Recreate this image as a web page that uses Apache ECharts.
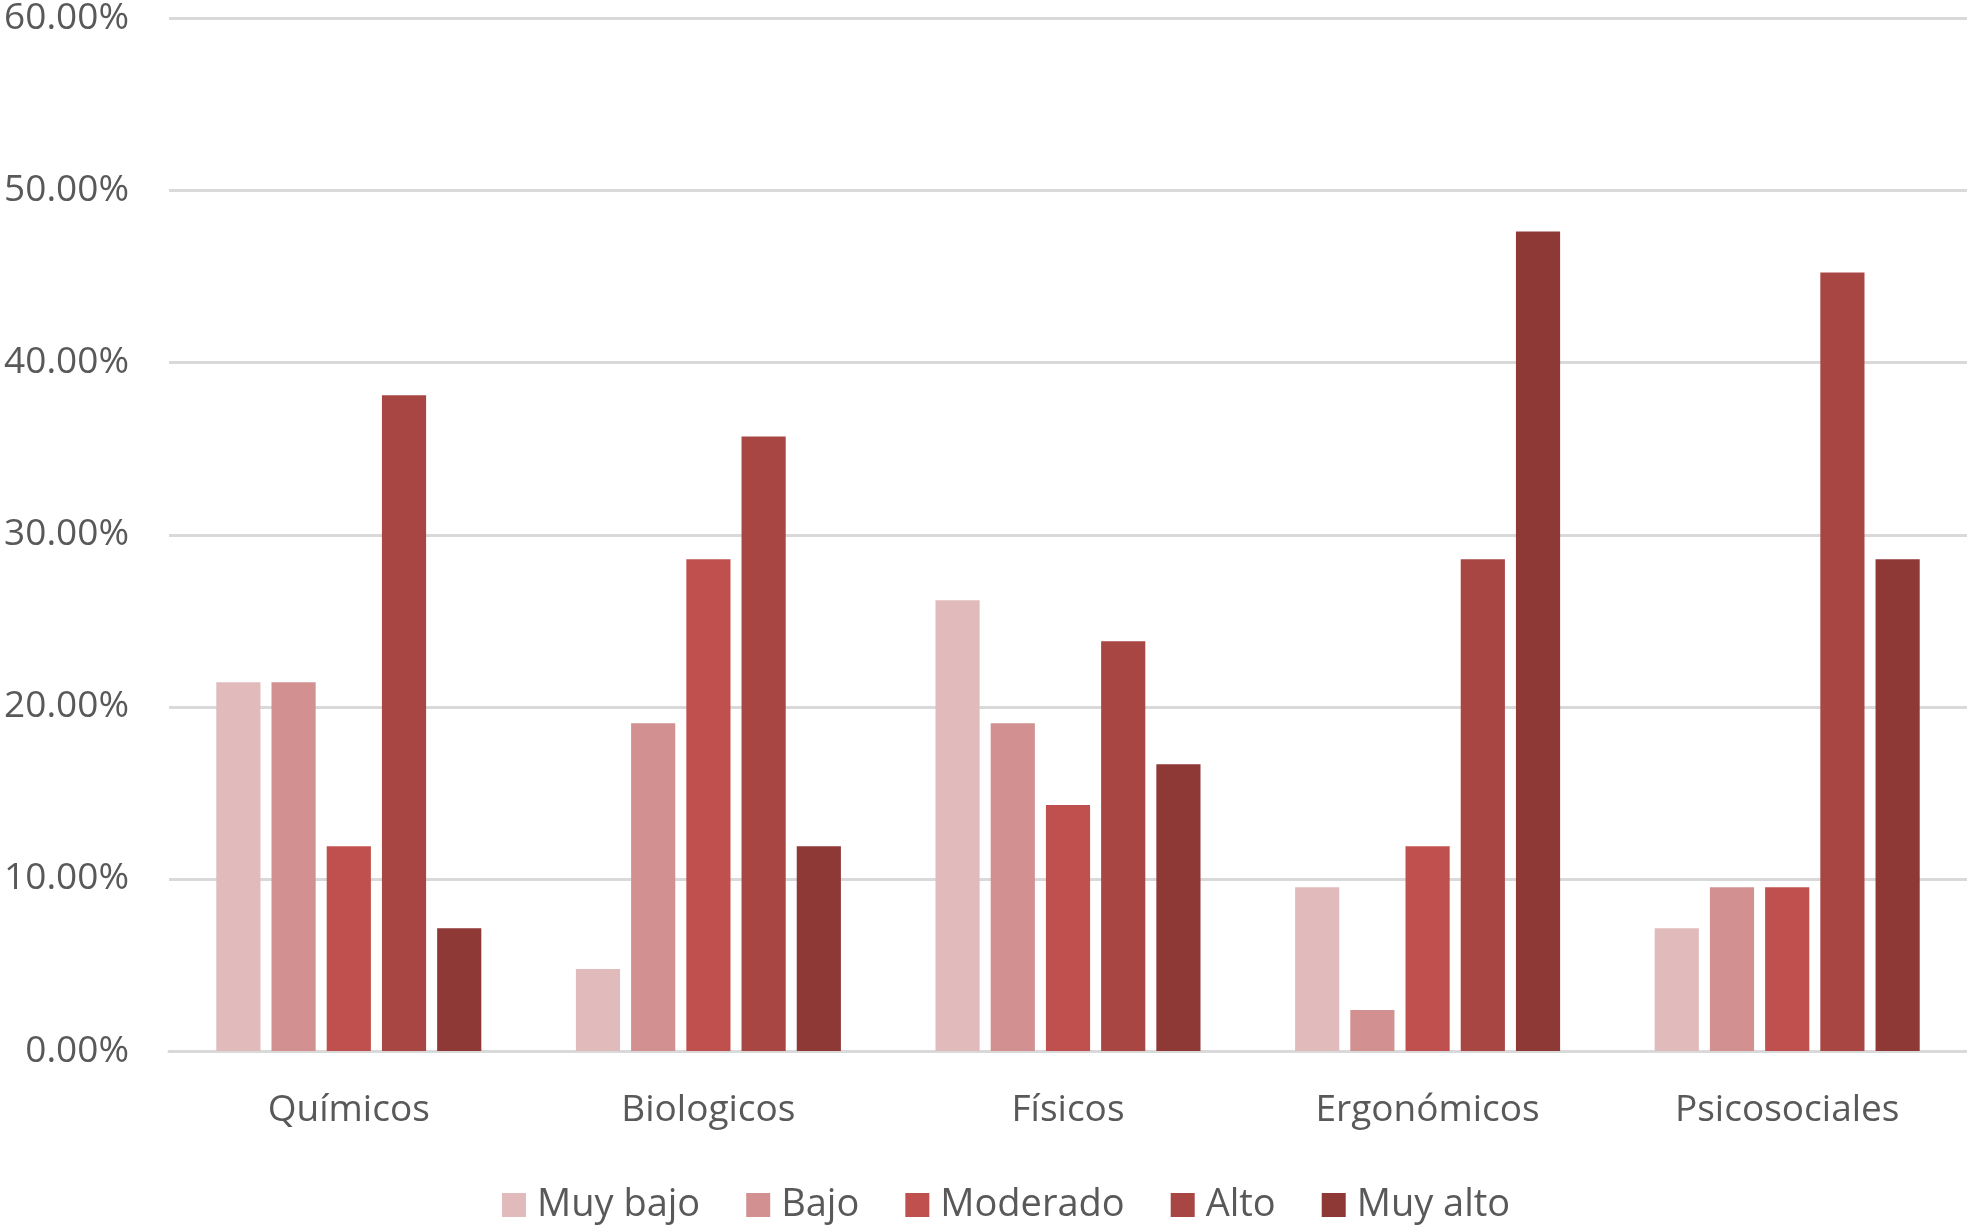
<!DOCTYPE html>
<html>
<head>
<meta charset="utf-8">
<script src="https://cdn.jsdelivr.net/npm/echarts@6/dist/echarts.min.js"></script>
<style>
html,body{margin:0;padding:0;background:#fff;}
#chart{width:1967px;height:1226px;}
</style>
</head>
<body>
<div id="chart"></div>
<script>
const categories = ['Químicos', 'Biologicos', 'Físicos', 'Ergonómicos', 'Psicosociales'];
const seriesNames = ['Muy bajo', 'Bajo', 'Moderado', 'Alto', 'Muy alto'];
const muyBajo = [21.43, 4.76, 26.19, 9.52, 7.14];
const bajo = [21.43, 19.05, 19.05, 2.38, 9.52];
const moderado = [11.90, 28.57, 14.29, 11.90, 9.52];
const alto = [38.10, 35.71, 23.81, 28.57, 45.24];
const muyAlto = [7.14, 11.90, 16.67, 47.62, 28.57];
const yTicks = [0, 10, 20, 30, 40, 50, 60];

const colors = ['#E1BBBC', '#D29190', '#C0504E', '#A84644', '#8F3937'];
const values = [muyBajo, bajo, moderado, alto, muyAlto];
const fontFamily = '"Open Sans", sans-serif';

const chart = echarts.init(document.getElementById('chart'));
chart.setOption({
  animation: false,
  color: colors,
  grid: {left: 169, right: 0, top: 15, bottom: 175},
  legend: {
    left: 497,
    top: 1181,
    itemWidth: 24,
    itemHeight: 24,
    itemGap: 46,
    icon: 'rect',
    textStyle: {fontFamily: fontFamily, fontSize: 38, color: '#595959', padding: [0, 0, 0, 6]},
    data: seriesNames
  },
  xAxis: {
    type: 'category',
    data: categories,
    axisLine: {show: true, lineStyle: {color: '#D9D9D9', width: 3}},
    axisTick: {show: false},
    axisLabel: {fontFamily: fontFamily, fontSize: 37, color: '#595959', margin: 41}
  },
  yAxis: {
    type: 'value',
    min: yTicks[0],
    max: yTicks[yTicks.length - 1],
    interval: 10,
    axisLine: {show: false},
    axisTick: {show: false},
    splitLine: {lineStyle: {color: '#D9D9D9', width: 3}},
    axisLabel: {
      fontFamily: fontFamily, fontSize: 37, color: '#595959', margin: 40,
      formatter: v => v.toFixed(2) + '%'
    }
  },
  series: seriesNames.map((n, i) => ({
    name: n,
    type: 'bar',
    data: values[i],
    barGap: '25%',
    barCategoryGap: '26.3%',
    itemStyle: {color: colors[i]}
  }))
});
</script>
</body>
</html>
